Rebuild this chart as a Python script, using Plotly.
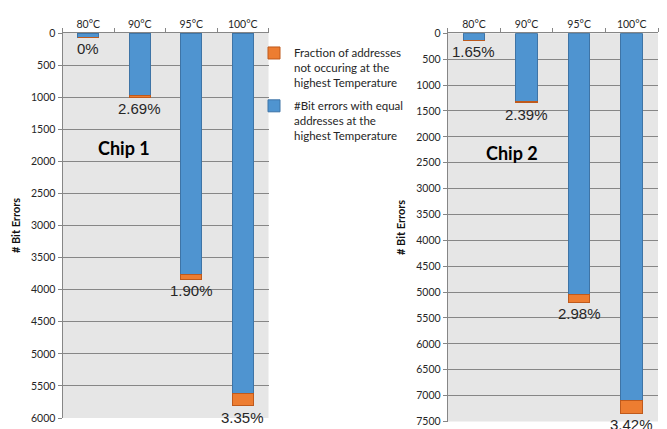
import plotly.graph_objects as go

# Temperatures (shared categories)
temperatures = ["80°C", "90°C", "95°C", "100°C"]

# Chip 1: bit errors with addresses also present at the highest temperature,
# and the errors at addresses not occurring at the highest temperature
chip1_equal = [67, 978, 3767, 5615]
chip1_fraction = [0, 27, 73, 195]
chip1_pct = ["0%", "2.69%", "1.90%", "3.35%"]

# Chip 2
chip2_equal = [133, 1308, 5045, 7089]
chip2_fraction = [2, 32, 155, 251]
chip2_pct = ["1.65%", "2.39%", "2.98%", "3.42%"]

BLUE = "#4f94d0"
BLUE_EDGE = "#3e74a6"
ORANGE = "#ed7d31"
ORANGE_EDGE = "#bf5a1c"
PLOT_BG = "#e6e6e6"
GRID = "#868686"
TEXT = "#262626"

W, H = 667, 429


def px_x(x):
    return x / W


def px_y(y):
    return 1 - y / H


fig = go.Figure()

panels = [
    ("x", "y", chip1_equal, chip1_fraction, chip1_pct, True),
    ("x2", "y2", chip2_equal, chip2_fraction, chip2_pct, False),
]

for xa, ya, equal, frac, pct, show in panels:
    fig.add_trace(go.Bar(
        x=temperatures, y=equal, xaxis=xa, yaxis=ya,
        name="#Bit errors with equal<br>addresses at the<br>highest Temperature",
        legendgroup="equal", legendrank=2,
        marker=dict(color=BLUE, line=dict(color=BLUE_EDGE, width=1)),
        width=0.41, showlegend=show,
        hoverinfo="x+y",
    ))
    fig.add_trace(go.Bar(
        x=temperatures, y=frac, xaxis=xa, yaxis=ya,
        name="Fraction of addresses<br>not occuring at the<br>highest Temperature",
        legendgroup="fraction", legendrank=1,
        marker=dict(color=ORANGE, line=dict(color=ORANGE_EDGE, width=1)),
        width=0.41, showlegend=show,
        hoverinfo="x+y",
    ))
    # percentage labels just below the end of each stacked bar
    for t, e, f, p in zip(temperatures, equal, frac, pct):
        fig.add_annotation(
            x=t, y=e + f, xref=xa, yref=ya, text=p, showarrow=False,
            xanchor="center", yanchor="top", yshift=-1,
            font=dict(family="Liberation Sans, Arial", size=15, color=TEXT),
        )

common_x = dict(
    type="category", side="top", showgrid=False, automargin=False,
    showline=True, linecolor=GRID, linewidth=1,
    ticks="outside", ticklen=4, tickcolor=GRID, tickson="boundaries",
    tickfont=dict(family="Lato", size=10.5, color=TEXT),
    fixedrange=True,
)
common_y = dict(
    showgrid=True, gridcolor=GRID, gridwidth=1, zeroline=False,
    showline=True, linecolor=GRID, linewidth=1, automargin=False,
    ticks="outside", ticklen=4, tickcolor=GRID,
    tickfont=dict(family="Lato", size=10.5, color=TEXT),
    dtick=500, tickformat="d",
    title=dict(text="<b># Bit Errors</b>",
               font=dict(family="Lato", size=11, color="#111111")),
)

fig.update_layout(
    width=W, height=H,
    margin=dict(l=0, r=0, t=0, b=0, autoexpand=False),
    paper_bgcolor="white",
    plot_bgcolor=PLOT_BG,
    barmode="stack",
    xaxis=dict(common_x, domain=[px_x(62.5), px_x(268.5)], anchor="y"),
    yaxis=dict(common_y, domain=[px_y(418), px_y(33)], range=[6000, 0],
               anchor="x", title_standoff=8),
    xaxis2=dict(common_x, domain=[px_x(447.7), px_x(658)], anchor="y2"),
    yaxis2=dict(common_y, domain=[px_y(421.5), px_y(33.3)], range=[7500, 0],
                anchor="x2", title_standoff=8),
    legend=dict(
        x=px_x(254), y=px_y(39), xanchor="left", yanchor="top",
        bgcolor="rgba(255,255,255,0)",
        font=dict(family="Lato", size=11.5, color=TEXT),
        valign="top", tracegroupgap=5, itemwidth=30,
        traceorder="grouped",
    ),
    showlegend=True,
)

# chip titles
fig.add_annotation(x=px_x(124), y=px_y(148), xref="paper", yref="paper",
                   xanchor="center", yanchor="middle",
                   text="<b>Chip 1</b>", showarrow=False,
                   font=dict(family="Lato", size=18, color="black"))
fig.add_annotation(x=px_x(512), y=px_y(153), xref="paper", yref="paper",
                   xanchor="center", yanchor="middle",
                   text="<b>Chip 2</b>", showarrow=False,
                   font=dict(family="Lato", size=18, color="black"))

fig.write_html("out.html")
